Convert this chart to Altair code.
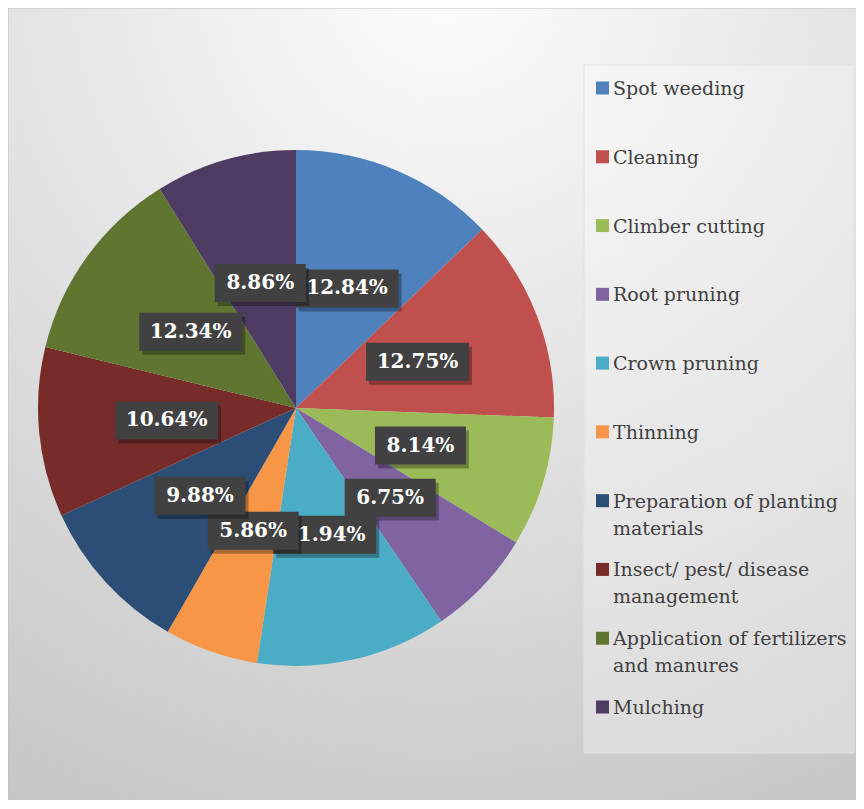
import altair as alt
import pandas as pd

names = ["Spot weeding", "Cleaning", "Climber cutting", "Root pruning", "Crown pruning",
         "Thinning", "Preparation of planting materials", "Insect/ pest/ disease management",
         "Application of fertilizers and manures", "Mulching"]
legend_text = ["Spot weeding", "Cleaning", "Climber cutting", "Root pruning", "Crown pruning",
               "Thinning", "Preparation of planting\nmaterials", "Insect/ pest/ disease\nmanagement",
               "Application of fertilizers\nand manures", "Mulching"]
values = [12.84, 12.75, 8.14, 6.75, 11.94, 5.86, 9.88, 10.64, 12.34, 8.86]
colors = ["#4F81BD", "#C0504D", "#9BBB59", "#8064A2", "#4BACC6",
          "#F79646", "#2C4D75", "#772C2A", "#5F7530", "#4D3B62"]

W, H = 848, 792
CX, CY, R, LR = 288, 400, 258, 130
SERIF = "DejaVu Serif"

df = pd.DataFrame({
    "idx": list(range(len(names))),
    "name": names,
    "legend": legend_text,
    "value": values,
    "label": [f"{v:.2f}%" for v in values],
})
one = pd.DataFrame({"a": [0]})

color_scale = alt.Scale(domain=names, range=colors)

bg = alt.Chart(one).mark_rect(
    fill=alt.Gradient(
        gradient="radial",
        stops=[alt.GradientStop(offset=0, color="#fdfdfd"),
               alt.GradientStop(offset=1, color="#c4c4c4")],
        x1=0.5, y1=0, r1=0, x2=0.5, y2=0, r2=1.1),
    stroke="#bfbfbf", strokeWidth=1,
).encode(x=alt.value(0), x2=alt.value(W + 20), y=alt.value(0), y2=alt.value(H + 20))

legbox = alt.Chart(one).mark_rect(
    fill="white", fillOpacity=0.3, stroke="#e2e2e2", strokeWidth=1
).encode(x=alt.value(576), x2=alt.value(846), y=alt.value(57), y2=alt.value(745))

base = alt.Chart(df)

pie = base.mark_arc(radius=R).encode(
    theta=alt.Theta("value:Q", stack=True),
    color=alt.Color("name:N", scale=color_scale, legend=None),
    order=alt.Order("idx:Q"),
    x=alt.value(CX), y=alt.value(CY),
)

pos = base.transform_window(
    cum="sum(value)", sort=[alt.SortField("idx")]
).transform_joinaggregate(
    total="sum(value)"
).transform_calculate(
    ang="2*PI*(datum.cum - datum.value/2)/datum.total"
).transform_calculate(
    lx=f"{CX} + {LR}*sin(datum.ang)",
    ly=f"{CY} - {LR}*cos(datum.ang)",
).transform_calculate(
    sx="datum.lx + 3", sy="datum.ly + 4"
)

label_layers = []
for i, lab in enumerate(df["label"]):
    hw = 0.99 if len(lab) >= 6 else 0.875
    path = f"M-{hw},-0.365H{hw}V0.365H-{hw}Z"
    sub = pos.transform_filter(f"datum.idx == {i}")
    shadow = sub.mark_point(shape=path, size=104 * 104, filled=True, color="black",
                            opacity=0.3, strokeWidth=0).encode(
        x=alt.X("sx:Q", scale=None, axis=None), y=alt.Y("sy:Q", scale=None, axis=None))
    box = sub.mark_point(shape=path, size=104 * 104, filled=True, color="#414141",
                         opacity=1, strokeWidth=0).encode(
        x=alt.X("lx:Q", scale=None, axis=None), y=alt.Y("ly:Q", scale=None, axis=None))
    txt = sub.mark_text(font=SERIF, fontSize=20, fontWeight="bold",
                        color="white", align="center", baseline="middle").encode(
        x=alt.X("lx:Q", scale=None, axis=None), y=alt.Y("ly:Q", scale=None, axis=None),
        text="label:N")
    label_layers += [shadow, box, txt]

leg_y = alt.Y("idx:Q", scale=alt.Scale(domain=[0, len(names) - 1], range=[80, 699]), axis=None)

leg_sq = base.mark_square(size=169, filled=True, opacity=1).encode(
    x=alt.value(594.5), y=leg_y,
    color=alt.Color("name:N", scale=color_scale, legend=None),
)
leg_txt = base.mark_text(font=SERIF, fontSize=19, lineHeight=27, lineBreak="\n",
                         color="#404040", align="left", baseline="alphabetic", dy=7).encode(
    x=alt.value(605), y=leg_y, text="legend:N")

chart = alt.layer(bg, legbox, pie, *label_layers, leg_sq, leg_txt).resolve_scale(
    x="independent", y="independent"
).properties(
    width=W, height=H, padding=0, autosize=alt.AutoSizeParams(type="none")
).configure_view(stroke=None)

chart.save("out.html", embed_options={"renderer": "svg", "actions": False})
